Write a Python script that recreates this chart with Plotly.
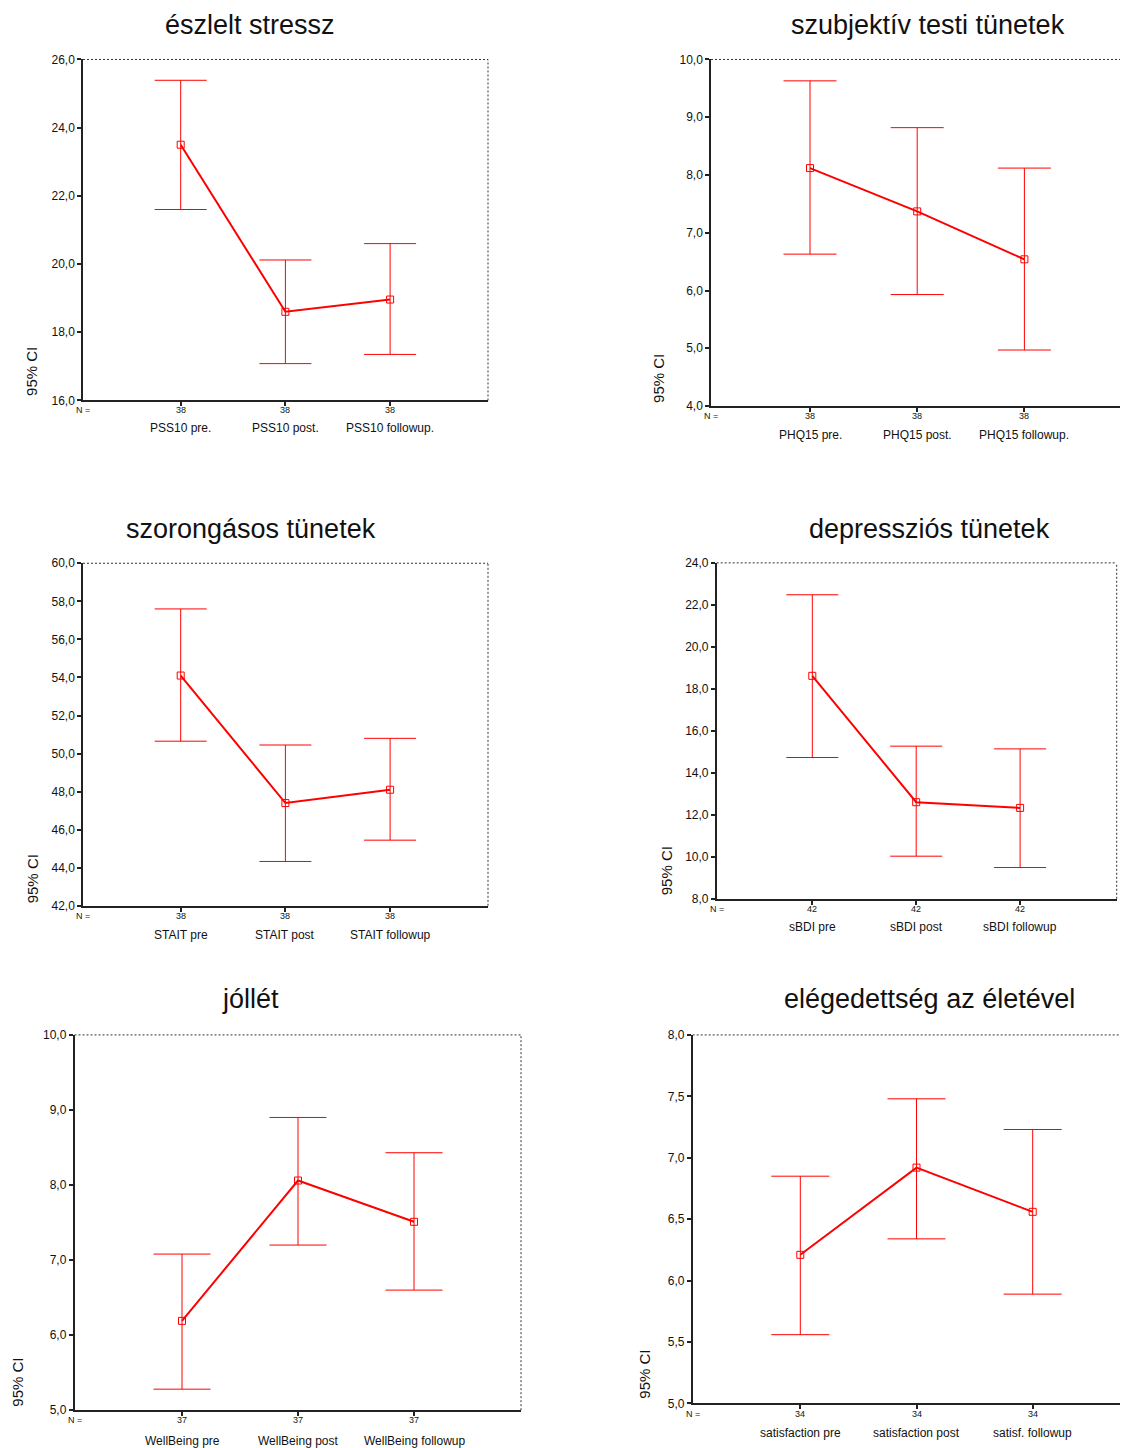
import plotly.graph_objects as go

# ---------------- data ----------------
titles = ["észlelt stressz", "szubjektív testi tünetek", "szorongásos tünetek",
          "depressziós tünetek", "jóllét", "elégedettség az életével"]

cats_pss = ["PSS10 pre.", "PSS10 post.", "PSS10 followup."]
n_pss = [38, 38, 38]
mean_pss = [23.5, 18.6, 18.96]
low_pss = [21.6, 17.08, 17.35]
up_pss = [25.39, 20.12, 20.6]

cats_phq = ["PHQ15 pre.", "PHQ15 post.", "PHQ15 followup."]
n_phq = [38, 38, 38]
mean_phq = [8.12, 7.37, 6.54]
low_phq = [6.63, 5.93, 4.97]
up_phq = [9.63, 8.82, 8.12]

cats_stait = ["STAIT pre", "STAIT post", "STAIT followup"]
n_stait = [38, 38, 38]
mean_stait = [54.1, 47.4, 48.1]
low_stait = [50.65, 44.33, 45.45]
up_stait = [57.6, 50.45, 50.8]

cats_bdi = ["sBDI pre", "sBDI post", "sBDI followup"]
n_bdi = [42, 42, 42]
mean_bdi = [18.62, 12.6, 12.33]
low_bdi = [14.73, 10.03, 9.49]
up_bdi = [22.48, 15.27, 15.14]

cats_wb = ["WellBeing pre", "WellBeing post", "WellBeing followup"]
n_wb = [37, 37, 37]
mean_wb = [6.19, 8.06, 7.51]
low_wb = [5.28, 7.2, 6.6]
up_wb = [7.08, 8.9, 8.43]

cats_sat = ["satisfaction pre", "satisfaction post", "satisf. followup"]
n_sat = [34, 34, 34]
mean_sat = [6.21, 6.92, 6.56]
low_sat = [5.56, 6.34, 5.89]
up_sat = [6.85, 7.48, 7.23]

y_ranges = [[16, 26], [4, 10], [42, 60], [8, 24], [5, 10], [5, 8]]
y_dticks = [2, 1, 2, 2, 1, 0.5]

# ---------------- layout geometry (target screen pixels) ----------------
W, H = 1132, 1448
SCALE_X, SCALE_Y = 1.0, 0.9896   # measured scale of the photographed page
OFF_X, OFF_Y = 8, 15             # measured offset of the figure inside the page
# left, right, top, bottom, first-category px, category spacing px
boxes = [
    (83, 488, 59.3, 400, 180.7, 104.7),
    (711, 1124, 59.3, 405.6, 810, 107.2),
    (83, 488, 562.7, 905, 180.7, 104.7),
    (716.7, 1116.7, 562.3, 898, 812.3, 103.9),
    (74.5, 521, 1034, 1409, 182, 116),
    (692.7, 1128, 1034, 1402.3, 800.3, 116.2),
]
draw_right = [True, True, True, True, True, False]
title_pos = [(250, 25), (928, 25), (251, 528), (929, 528), (250, 998), (929, 998)]
ci_pos = [(32, 398), (659, 405), (32, 905), (666, 897), (18, 1408), (645, 1400)]
n_off = [10, 10, 10, 10, 10, 10.5]
lab_off = [28, 28.5, 29, 28, 31, 29.5]
cap_w = [26, 26.5, 26, 26, 28.5, 29]

series = [
    (cats_pss, n_pss, mean_pss, low_pss, up_pss),
    (cats_phq, n_phq, mean_phq, low_phq, up_phq),
    (cats_stait, n_stait, mean_stait, low_stait, up_stait),
    (cats_bdi, n_bdi, mean_bdi, low_bdi, up_bdi),
    (cats_wb, n_wb, mean_wb, low_wb, up_wb),
    (cats_sat, n_sat, mean_sat, low_sat, up_sat),
]

RED = "#ff0000"
FONT = "Arial, 'Liberation Sans', Helvetica, sans-serif"

def px_x(p):
    return min(1.0, max(0.0, (p / SCALE_X - OFF_X) / W))

def px_y(p):
    return 1 - (p / SCALE_Y - OFF_Y) / H

fig = go.Figure()
annotations = []
shapes = []
layout_axes = {}

for i, (cats, ns, means, lows, ups) in enumerate(series):
    k = "" if i == 0 else str(i + 1)
    L, R, T, B, c0, sp = boxes[i]
    xs = list(range(len(cats)))
    plus = [u - m for u, m in zip(ups, means)]
    minus = [m - l for m, l in zip(means, lows)]
    fig.add_trace(go.Scatter(
        x=xs, y=means, mode="lines+markers",
        xaxis="x" + k, yaxis="y" + k,
        line=dict(color=RED, width=2),
        marker=dict(symbol="square-open", size=7, color=RED, line=dict(width=1, color=RED)),
        error_y=dict(type="data", symmetric=False, array=plus, arrayminus=minus,
                     color=RED, thickness=1, width=cap_w[i] / SCALE_X),
        showlegend=False, hoverinfo="skip", cliponaxis=False,
    ))
    xr = [(L - c0) / sp, (R - c0) / sp]
    layout_axes["xaxis" + k] = dict(
        domain=[px_x(L), px_x(R)], range=xr, anchor="y" + k,
        showline=True, linecolor="#222", linewidth=1.5, ticks="outside", ticklen=4,
        tickwidth=1.5, tickcolor="#222", tickvals=xs, showticklabels=False,
        showgrid=False, zeroline=False, fixedrange=True,
    )
    layout_axes["yaxis" + k] = dict(
        domain=[px_y(B), px_y(T)], range=y_ranges[i], anchor="x" + k,
        dtick=y_dticks[i], tick0=y_ranges[i][0], tickformat=".1f",
        showline=True, linecolor="#222", linewidth=1.5, ticks="outside", ticklen=4,
        tickwidth=1.5, tickcolor="#222", showgrid=False, zeroline=False,
        tickfont=dict(size=12, color="#111", family=FONT), fixedrange=True,
    )
    # dotted top and right borders
    shapes.append(dict(type="line", xref="paper", yref="paper",
                       x0=px_x(L), x1=px_x(R), y0=px_y(T), y1=px_y(T),
                       line=dict(color="#333", width=1, dash="2px,2px")))
    if draw_right[i]:
        shapes.append(dict(type="line", xref="paper", yref="paper",
                           x0=px_x(R), x1=px_x(R), y0=px_y(B), y1=px_y(T),
                           line=dict(color="#333", width=1, dash="2px,2px")))
    # title
    tx, ty = title_pos[i]
    annotations.append(dict(text=titles[i], x=px_x(tx), y=px_y(ty), xref="paper", yref="paper",
                            xanchor="center", yanchor="middle", showarrow=False,
                            font=dict(size=27, color="#111", family=FONT)))
    # y title
    cx, cy = ci_pos[i]
    annotations.append(dict(text="95% CI", x=px_x(cx), y=px_y(cy), xref="paper", yref="paper",
                            xanchor="center", yanchor="bottom", textangle=-90, showarrow=False,
                            font=dict(size=15, color="#111", family=FONT)))
    # N =
    annotations.append(dict(text="N =", x=px_x(L), y=px_y(B + n_off[i]), xref="paper", yref="paper",
                            xanchor="center", yanchor="middle", showarrow=False,
                            font=dict(size=9, color="#111", family=FONT)))
    for j, c in enumerate(cats):
        annotations.append(dict(text=str(ns[j]), x=xs[j], y=px_y(B + n_off[i]),
                                xref="x" + k, yref="paper", xanchor="center", yanchor="middle",
                                showarrow=False, font=dict(size=9, color="#111", family=FONT)))
        annotations.append(dict(text=c, x=xs[j], y=px_y(B + lab_off[i]),
                                xref="x" + k, yref="paper", xanchor="center", yanchor="middle",
                                showarrow=False, font=dict(size=12, color="#111", family=FONT)))

fig.update_layout(
    width=W, height=H, margin=dict(l=0, r=0, t=0, b=0),
    paper_bgcolor="white", plot_bgcolor="white",
    separators=", ", font=dict(family=FONT, color="#111"),
    annotations=annotations, shapes=shapes, showlegend=False,
    **layout_axes,
)

fig.write_html("out.html")
